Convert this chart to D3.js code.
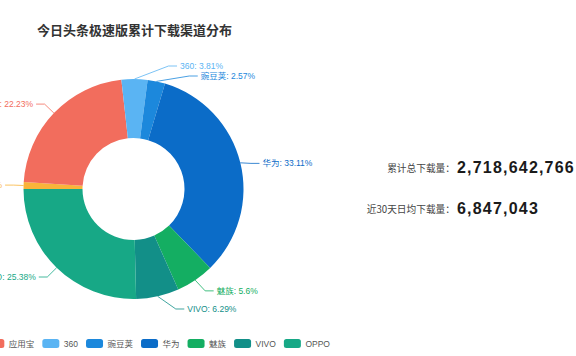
<!DOCTYPE html>
<html><head><meta charset="utf-8">
<script src="https://cdn.jsdelivr.net/npm/d3@7"></script>
<style>body{margin:0;background:#fff;} svg{display:block;font-family:"Liberation Sans","Noto Sans CJK SC",sans-serif;}</style>
</head><body><svg id="c" width="576" height="356"></svg>
<script>
const categories = ["其他","应用宝","360","豌豆荚","华为","魅族","VIVO","OPPO"];
const shares = [1.01,22.23,3.81,2.57,33.11,5.6,6.29,25.38];
const colors = ["#f9b43a","#f26d5d","#5ab4f3","#1c88dc","#0b6cc8","#14ae62","#128f88","#17a886"];
const title = "今日头条极速版累计下载渠道分布";
const statLabels = ["累计总下载量：","近30天日均下载量："];
const statValues = [2718642766, 6847043];

const W=576,H=356;
const svg = d3.select("#c");
svg.append("rect").attr("width",W).attr("height",H).attr("fill","#fff");
svg.append("text").attr("x",37).attr("y",35).text(title)
  .attr("font-size",13).attr("font-weight","bold").attr("fill","#333")
  .attr("font-family","Noto Sans CJK SC");

const cx=133.5, cy=189, R=110, r0=51;
const data = categories.map((c,i)=>({name:c,value:shares[i],color:colors[i]}));
const pie = d3.pie().value(d=>d.value).sort(null).startAngle(-Math.PI/2).endAngle(3*Math.PI/2);
const arcs = pie(data);
const arc = d3.arc().innerRadius(r0).outerRadius(R);
const g = svg.append("g").attr("transform",`translate(${cx},${cy})`);
g.selectAll("path").data(arcs).join("path").attr("d",arc).attr("fill",d=>d.data.color);

// label layout (ECharts-like)
const len1=13, len2=8.5, lh=10;
const layouts = arcs.map(a=>{
  const m=(a.startAngle+a.endAngle)/2;
  const dx=Math.sin(m), dy=-Math.cos(m);
  const dir = dx<0?-1:1;
  const x2=cx+(R+len1)*dx, y2=cy+(R+len1)*dy;
  const x3=x2+dir*len2;
  return {a, x1:cx+R*dx, y1:cy+R*dy, x:x3+dir*5, y:y2, dir,
          text:`${a.data.name}: ${a.data.value}%`};
});
function adjustSide(list, dir){
  list.sort((p,q)=>p.y-q.y);
  function shiftUp(end, delta){
    for(let j=end;j>=0;j--){
      list[j].y-=delta;
      if(j>0 && list[j].y>list[j-1].y+lh) break;
    }
  }
  function shiftDown(start,end,delta){
    for(let j=start;j<end;j++){
      list[j].y+=delta;
      if(j>start && j+1<end && list[j+1].y>list[j].y+lh){ shiftUp(j,delta/2); return; }
    }
    shiftUp(end-1,delta/2);
  }
  let lastY=0;
  for(let i=0;i<list.length;i++){
    const d=list[i].y-lastY;
    if(d<0) shiftDown(i,list.length,-d);
    lastY=list[i].y+lh;
  }
  const up=list.filter(l=>l.y<cy), down=list.filter(l=>l.y>=cy);
  function changeX(arr,isDown){
    let last = isDown?Number.MAX_VALUE:0;
    arr.forEach(l=>{
      const dY=Math.abs(l.y-cy);
      let dX = dY < R+len1+len2 ? Math.sqrt((R+len1+len2)**2-dY*dY) : Math.abs(l.x-cx);
      if(isDown && dX>=last) dX=last-10;
      if(!isDown && dX<=last) dX=last+10;
      l.x=cx+dX*dir; last=dX;
    });
  }
  changeX(up,false); changeX(down,true);
}
adjustSide(layouts.filter(l=>l.dir>0),1);
adjustSide(layouts.filter(l=>l.dir<0),-1);

const lg = svg.append("g");
layouts.forEach(l=>{
  const end=l.x-l.dir*3, corner=end-l.dir*len2;
  lg.append("polyline")
    .attr("points",`${l.x1},${l.y1} ${corner},${l.y} ${end},${l.y}`)
    .attr("fill","none").attr("stroke",l.a.data.color).attr("stroke-width",0.8);
  lg.append("text").attr("x",l.x).attr("y",l.y)
    .attr("text-anchor",l.dir>0?"start":"end").attr("dominant-baseline","central")
    .attr("font-size",8.5).attr("fill",l.a.data.color).text(l.text);
});

// legend
const legend = svg.append("g");
let lx=-59.2; const ly=343.5;
categories.forEach((name,i)=>{
  legend.append("rect").attr("x",lx).attr("y",ly-4.5).attr("width",17).attr("height",9)
    .attr("rx",2.5).attr("fill",colors[i]);
  const t=legend.append("text").attr("x",lx+21.5).attr("y",ly).attr("dominant-baseline","central")
    .attr("font-size",8.5).attr("fill","#555").text(name);
  lx += 21.5 + t.node().getComputedTextLength() + 8;
});

// stats
const statY=[173,214];
const fmt=d3.format(",");
statLabels.forEach((lab,i)=>{
  svg.append("text").attr("x",455).attr("y",statY[i]-1).attr("text-anchor","end")
    .attr("font-size",9.7).attr("fill","#444").attr("font-family","Noto Sans CJK SC").text(lab);
  svg.append("text").attr("x",457).attr("y",statY[i]).attr("font-size",16)
    .attr("font-weight","bold").attr("letter-spacing",1.2).attr("fill","#1a1a1a").text(fmt(statValues[i]));
});
</script></body></html>
